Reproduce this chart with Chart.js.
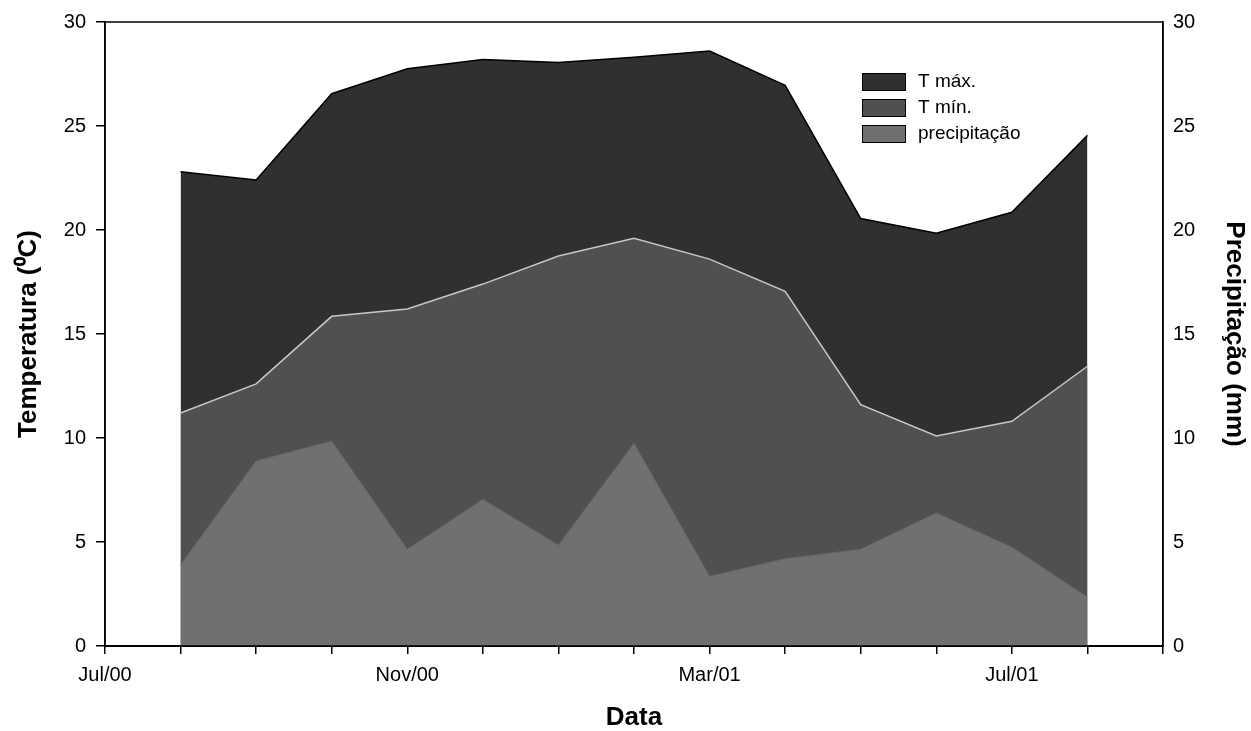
<!DOCTYPE html>
<html>
<head>
<meta charset="utf-8">
<script src="https://cdn.jsdelivr.net/npm/chart.js@4.4.0/dist/chart.umd.min.js"></script>
<style>
  html, body { margin: 0; padding: 0; background: #fff; }
  #wrap { width: 1251px; height: 731px; }
</style>
</head>
<body>
<div id="wrap"><canvas id="myChart" width="1251" height="731"></canvas></div>
<script>
// months from Jul/00 (0) to Sep/01 (14), data from Aug/00 to Aug/01
const monthLabels = ['Jul/00', '', '', '', 'Nov/00', '', '', '', 'Mar/01', '', '', '', 'Jul/01', '', ''];
const dataMonths = [1, 2, 3, 4, 5, 6, 7, 8, 9, 10, 11, 12, 13];
const tMax = [22.8, 22.4, 26.55, 27.75, 28.2, 28.05, 28.3, 28.6, 26.95, 20.55, 19.85, 20.85, 24.55];
const tMin = [11.2, 12.6, 15.85, 16.2, 17.4, 18.75, 19.6, 18.6, 17.05, 11.6, 10.1, 10.8, 13.45];
const precip = [3.9, 8.9, 9.85, 4.65, 7.05, 4.85, 9.75, 3.35, 4.2, 4.65, 6.4, 4.75, 2.35];

const font = 'Liberation Sans, Arial, sans-serif';

function toPoints(values) {
  return values.map((v, i) => ({ x: dataMonths[i], y: v }));
}

// moldura do gráfico + legenda dentro da área
const framePlugin = {
  id: 'frame',
  afterDraw(chart) {
    const ctx = chart.ctx;
    const a = chart.chartArea;
    ctx.save();
    ctx.strokeStyle = '#000';
    ctx.lineWidth = 1.5;
    ctx.strokeRect(a.left, a.top, a.right - a.left, a.bottom - a.top);

    // legenda
    const x0 = 862, y0 = 73, rowH = 26;
    ctx.font = '19px ' + font;
    ctx.textBaseline = 'middle';
    chart.data.datasets.forEach((ds, i) => {
      const y = y0 + i * rowH;
      ctx.fillStyle = ds.backgroundColor;
      ctx.fillRect(x0, y, 44, 18);
      ctx.lineWidth = 1;
      ctx.strokeStyle = '#000';
      ctx.strokeRect(x0 + 0.5, y + 0.5, 43, 17);
      ctx.fillStyle = '#000';
      ctx.fillText(ds.label, x0 + 56, y + 9);
    });
    ctx.restore();
  }
};

const config = {
  type: 'line',
  data: {
    datasets: [
      {
        label: 'T máx.',
        data: toPoints(tMax),
        yAxisID: 'y',
        backgroundColor: '#303030',
        borderColor: '#000000',
        borderWidth: 1.5,
        fill: 'origin',
        pointRadius: 0,
        tension: 0,
        order: 3
      },
      {
        label: 'T mín.',
        data: toPoints(tMin),
        yAxisID: 'y',
        backgroundColor: '#505050',
        borderColor: '#c8c8c8',
        borderWidth: 1.5,
        fill: 'origin',
        pointRadius: 0,
        tension: 0,
        order: 2
      },
      {
        label: 'precipitação',
        data: toPoints(precip),
        yAxisID: 'y2',
        backgroundColor: '#707070',
        borderColor: '#656565',
        borderWidth: 1,
        fill: 'origin',
        pointRadius: 0,
        tension: 0,
        order: 1
      }
    ]
  },
  options: {
    responsive: false,
    animation: false,
    layout: { padding: { top: 22, left: 0, right: 0, bottom: 0 } },
    plugins: {
      legend: { display: false },
      tooltip: { enabled: false }
    },
    scales: {
      x: {
        type: 'linear',
        min: 0,
        max: 14,
        afterFit: function(scale) { scale.height = 85; },
        grid: { drawOnChartArea: false, color: '#000', tickLength: 8, lineWidth: 1.5 },
        border: { display: true, color: '#000', width: 2 },
        ticks: {
          stepSize: 1,
          autoSkip: false,
          maxRotation: 0,
          color: '#000',
          padding: 9,
          font: { family: font, size: 20 },
          callback: function(value) { return monthLabels[value] || ''; }
        },
        title: {
          display: true,
          text: 'Data',
          color: '#000',
          padding: { top: 0, bottom: 0 },
          font: { family: font, size: 26, weight: 'bold', lineHeight: 1.0 }
        }
      },
      y: {
        position: 'left',
        min: 0,
        max: 30,
        afterFit: function(scale) { scale.width = 105; },
        grid: { drawOnChartArea: false, color: '#000', tickLength: 9, lineWidth: 1.5 },
        border: { display: true, color: '#000', width: 1.5 },
        ticks: {
          stepSize: 5,
          color: '#000',
          padding: 10,
          font: { family: font, size: 20 }
        },
        title: {
          display: true,
          text: 'Temperatura (⁰C)',
          color: '#000',
          padding: { top: 13, bottom: 0 },
          font: { family: font, size: 26, weight: 'bold' }
        }
      },
      y2: {
        position: 'right',
        min: 0,
        max: 30,
        afterFit: function(scale) { scale.width = 88; },
        grid: { display: false, drawOnChartArea: false, drawTicks: false },
        border: { display: true, color: '#000', width: 1.5 },
        ticks: {
          stepSize: 5,
          color: '#000',
          padding: 10,
          font: { family: font, size: 20 }
        },
        title: {
          display: true,
          text: 'Precipitação (mm)',
          color: '#000',
          padding: { top: 1, bottom: 0 },
          font: { family: font, size: 26, weight: 'bold' }
        }
      }
    }
  },
  plugins: [framePlugin]
};

const myChart = new Chart(document.getElementById('myChart'), config);
</script>
</body>
</html>
